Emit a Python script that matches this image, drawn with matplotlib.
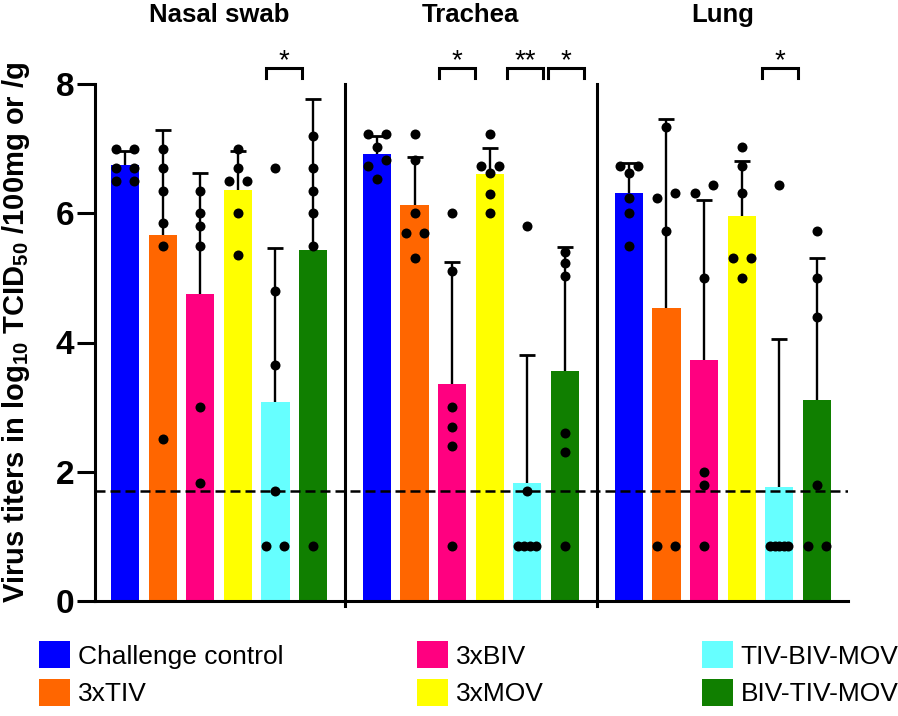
import numpy as np
import matplotlib
matplotlib.use("Agg")
import matplotlib.pyplot as plt
from matplotlib.patches import Patch

plt.rcParams['font.family'] = ['Liberation Sans', 'DejaVu Sans']
plt.rcParams['mathtext.fontset'] = 'custom'
plt.rcParams['mathtext.rm'] = 'Liberation Sans:bold'
plt.rcParams['mathtext.bf'] = 'Liberation Sans:bold'
plt.rcParams['mathtext.default'] = 'bf'

tissues = ["Nasal swab", "Trachea", "Lung"]
groups = ["Challenge control", "3xTIV", "3xBIV", "3xMOV", "TIV-BIV-MOV", "BIV-TIV-MOV"]
colors = ["#0000ff", "#ff6600", "#ff0080", "#ffff00", "#66ffff", "#107f00"]

lod = 1.7

# bar height (mean) and SD, in group order
nasal_mean = [6.74, 5.66, 4.75, 6.36, 3.08, 5.43]
nasal_sd = [0.23, 1.63, 1.87, 0.60, 2.39, 2.34]
trachea_mean = [6.92, 6.13, 3.36, 6.61, 1.82, 3.56]
trachea_sd = [0.27, 0.74, 1.89, 0.40, 1.99, 1.92]
lung_mean = [6.31, 4.53, 3.73, 5.96, 1.77, 3.11]
lung_sd = [0.47, 2.93, 2.48, 0.85, 2.29, 2.19]

# individual animals
nasal_pts = [
    [7.0, 7.0, 6.7, 6.7, 6.5, 6.5],
    [7.0, 6.7, 6.35, 5.85, 5.5, 2.5],
    [6.35, 6.0, 5.8, 5.5, 3.0, 1.83],
    [7.0, 6.7, 6.5, 6.5, 6.0, 5.35],
    [6.7, 4.8, 3.65, 1.7, 0.85, 0.85],
    [7.2, 6.7, 6.35, 6.0, 5.5, 0.85],
]
trachea_pts = [
    [7.22, 7.22, 7.03, 6.83, 6.73, 6.53],
    [7.22, 6.83, 6.0, 5.7, 5.7, 5.3],
    [6.0, 5.1, 3.0, 2.7, 2.4, 0.85],
    [7.22, 6.73, 6.73, 6.62, 6.3, 6.0],
    [5.8, 1.7, 0.85, 0.85, 0.85, 0.85],
    [5.4, 5.23, 5.03, 2.6, 2.3, 0.85],
]
lung_pts = [
    [6.73, 6.73, 6.62, 6.23, 6.0, 5.5],
    [7.33, 6.32, 6.23, 5.72, 0.85, 0.85],
    [6.43, 6.32, 5.0, 2.0, 1.8, 0.85],
    [7.03, 6.73, 6.32, 5.3, 5.3, 5.0],
    [6.43, 0.85, 0.85, 0.85, 0.85, 0.85],
    [5.72, 5.0, 4.4, 1.8, 0.85, 0.85],
]

# significance brackets: (tissue, centre in bar units, label)
sig = [(0, 4.23, "*"), (1, 2.13, "*"), (1, 3.94, "**"), (1, 5.03, "*"), (2, 4.02, "*")]

means = [nasal_mean, trachea_mean, lung_mean]
sds = [nasal_sd, trachea_sd, lung_sd]
pts = [nasal_pts, trachea_pts, lung_pts]


def swarm(vals, s=0.24, thr=0.14):
    # spread tied values, push close pairs left/right
    vals = np.asarray(vals, dtype=float)
    off = np.zeros(len(vals))
    for v in np.unique(vals):
        idx = np.where(vals == v)[0]
        if len(idx) > 1:
            off[idx] = np.linspace(-s, s, len(idx))
    singles = [i for i in np.argsort(-vals) if np.sum(vals == vals[i]) == 1]
    prev = None
    for i in singles:
        if prev is not None and off[prev] == 0 and vals[prev] - vals[i] < thr:
            off[prev], off[i] = s, -s
        prev = i
    return off


fig = plt.figure(figsize=(8.98, 7.16), dpi=100)
ax = fig.add_axes([95 / 898, 1 - 601 / 716, 753 / 898, 517 / 716])

gap = 6.7
for g in range(3):
    x = g * gap + np.arange(6)
    # symmetric SD bars sit behind the bars, so only the upper half shows
    ax.errorbar(x, means[g], yerr=sds[g], fmt='none', ecolor='black',
                elinewidth=1.7, capsize=5.8, capthick=2.0, zorder=0.5)
    ax.bar(x, means[g], width=0.75, color=colors, zorder=1)
    for i in range(6):
        ax.plot(x[i] + swarm(pts[g][i]), pts[g][i], 'o', color='black', ms=7.2,
                mew=0, zorder=3, clip_on=False)
    ax.text(g * gap + 2.5, 9.07, tissues[g], ha='center', va='center',
            fontsize=18.5, fontweight='bold', clip_on=False)
    if g > 0:
        xs = g * gap - (gap - 5) / 2
        ax.plot([xs, xs], [-0.08, 8.0], color='black', lw=2.2, clip_on=False, zorder=4)

for g, c, lab in sig:
    c = g * gap + c
    ax.plot([c - 0.48, c - 0.48, c + 0.48, c + 0.48], [8.09, 8.25, 8.25, 8.09],
            color='black', lw=2.2, clip_on=False, solid_joinstyle='miter')
    ax.text(c, 8.25, lab, ha='center', va='baseline', fontsize=20, clip_on=False)

ax.axhline(lod, color='black', ls=(0, (4, 2)), lw=1.8, zorder=2.5)

ax.set_xlim(-0.8, 19.23)
ax.set_ylim(0, 8)
ax.set_yticks([0, 2, 4, 6, 8])
ax.set_xticks([])
for side in ['top', 'right']:
    ax.spines[side].set_visible(False)
for side in ['left', 'bottom']:
    ax.spines[side].set_linewidth(2.2)
ax.tick_params(axis='y', length=13, width=2.2, pad=2, labelsize=24)
for t in ax.get_yticklabels():
    t.set_fontweight('bold')

fig.text(16 / 898, 1 - 332 / 716, r"Virus titers in log$_{10}$ TCID$_{50}$ /100mg or /g",
         rotation=90, ha='center', va='center', fontsize=21, fontweight='bold')

# legend, three columns
col_x = [39, 417, 702]
for k in range(3):
    handles = [Patch(facecolor=colors[j], edgecolor='none') for j in (2 * k, 2 * k + 1)]
    fig.legend(handles, [groups[2 * k], groups[2 * k + 1]], loc='upper left',
               bbox_to_anchor=(col_x[k] / 898, 1 - 641 / 716), frameon=False, fontsize=19,
               handlelength=1.17, handleheight=1.21, handletextpad=0.3,
               labelspacing=0.38, borderpad=0, borderaxespad=0)

fig.savefig("out.png", dpi=100)
